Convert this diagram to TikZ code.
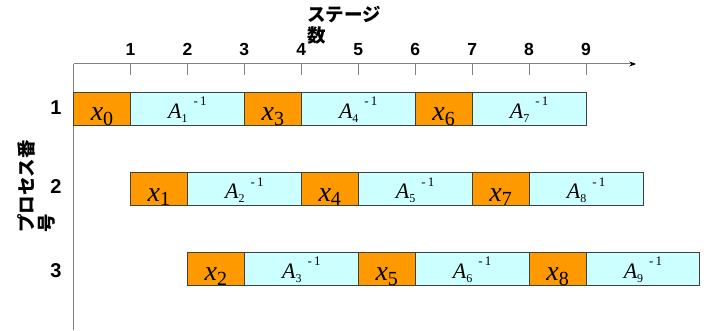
\documentclass[tikz,border=0pt]{standalone}
\usepackage{fontspec}
\usetikzlibrary{arrows.meta}
\newfontfamily\jpfont{Noto Sans CJK JP}
\newfontfamily\numfont{Liberation Sans}
\newfontfamily\varfont{Liberation Serif}
\definecolor{procorange}{HTML}{FF9900}
\definecolor{invcyan}{HTML}{CCFFFF}
\definecolor{boxline}{HTML}{404040}
\definecolor{axisgray}{HTML}{808080}

% x_i : large italic x with an upright subscript
\newcommand\xlab[1]{{\varfont\fontsize{28}{28}\selectfont\itshape x}\raisebox{-5pt}{\varfont\fontsize{20}{20}\selectfont #1}}
% A_i^{-1}
\newcommand\Alab[1]{{\varfont\fontsize{22}{22}\selectfont\itshape A}\raisebox{-4pt}{\varfont\fontsize{12}{12}\selectfont #1}\hspace{6pt}\raisebox{13pt}{\varfont\fontsize{13}{13}\selectfont -\,1}}

\tikzset{
  stagebox/.style={draw=boxline, line width=1pt, inner sep=0pt, outer sep=0pt,
    minimum height=33.5pt, anchor=north west},
  xbox/.style={stagebox, fill=procorange, minimum width=56.95pt,
    text height=23.5pt, text depth=0pt},
  abox/.style={stagebox, fill=invcyan, minimum width=113.9pt,
    text height=19.5pt, text depth=0pt},
  ticklab/.style={font=\numfont\bfseries\fontsize{17.5}{17.5}\selectfont, inner sep=0pt},
  rowlab/.style={font=\numfont\bfseries\fontsize{20}{20}\selectfont, inner sep=0pt},
  jplab/.style={font=\jpfont\bfseries\fontsize{18.5}{20.5}\selectfont, inner sep=0pt, align=left},
}

\begin{document}
\begin{tikzpicture}[x=1pt,y=-1pt]
\useasboundingbox (0,0) rectangle (709,331);

% axis titles
\node[jplab, anchor=north west] (stagetitle) at (307,6) {ステージ\\数};
\node[jplab, rotate=90, anchor=north west] (proctitle) at (17,233) {プロセス番\\号};

% process numbers
\node[rowlab] (p1) at (56,108) {1};
\node[rowlab] (p2) at (56,187) {2};
\node[rowlab] (p3) at (56,271) {3};

\begin{scope}[shift={(73.5,0)}, x=56.95pt]
  % axes
  \coordinate (O) at (0,64);
  \coordinate (xend) at (9.88,64);
  \coordinate (yend) at (0,330);
  \draw[axisgray, line width=1pt] (yend) -- (O);
  \draw[axisgray, line width=1pt, -{Stealth[length=7pt,width=5pt,black]}] (O) -- (xend);
  \foreach \i in {1,...,9} {
    \draw[axisgray, line width=0.8pt] (\i,64) -- (\i,75);
    \node[ticklab] (t\i) at (\i,49.5) {\i};
  }

  % process 1
  \node[xbox] (x0) at (0,92.5) {\xlab{0}};
  \node[abox] (a1) at (1,92.5) {\Alab{1}};
  \node[xbox] (x3) at (3,92.5) {\xlab{3}};
  \node[abox] (a4) at (4,92.5) {\Alab{4}};
  \node[xbox] (x6) at (6,92.5) {\xlab{6}};
  \node[abox] (a7) at (7,92.5) {\Alab{7}};

  % process 2
  \node[xbox] (x1) at (1,172.5) {\xlab{1}};
  \node[abox] (a2) at (2,172.5) {\Alab{2}};
  \node[xbox] (x4) at (4,172.5) {\xlab{4}};
  \node[abox] (a5) at (5,172.5) {\Alab{5}};
  \node[xbox] (x7) at (7,172.5) {\xlab{7}};
  \node[abox] (a8) at (8,172.5) {\Alab{8}};

  % process 3
  \node[xbox] (x2) at (2,252) {\xlab{2}};
  \node[abox] (a3) at (3,252) {\Alab{3}};
  \node[xbox] (x5) at (5,252) {\xlab{5}};
  \node[abox] (a6) at (6,252) {\Alab{6}};
  \node[xbox] (x8) at (8,252) {\xlab{8}};
  \node[abox] (a9) at (9,252) {\Alab{9}};
\end{scope}
\end{tikzpicture}
\end{document}
